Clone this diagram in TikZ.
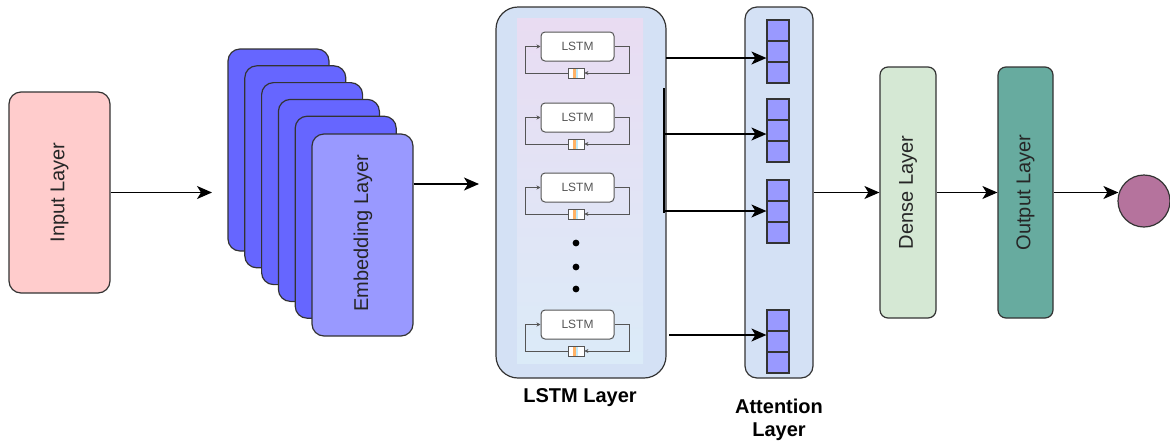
\documentclass[tikz,border=0pt]{standalone}
\usepackage{fontspec}
\setmainfont{Liberation Sans}
\usetikzlibrary{arrows.meta,calc}
\definecolor{inpfill}{HTML}{FFCCCC}
\definecolor{embback}{HTML}{6666FF}
\definecolor{embfront}{HTML}{9999FF}
\definecolor{boxblue}{HTML}{D4E1F5}
\definecolor{gradtop}{HTML}{E9DCF2}
\definecolor{gradbot}{HTML}{DBEBF8}
\definecolor{densefill}{HTML}{D5E8D4}
\definecolor{outfill}{HTML}{67AB9F}
\definecolor{circfill}{HTML}{B5739D}
\definecolor{edge}{HTML}{333333}
\definecolor{cellgray}{HTML}{555555}
\begin{document}
\begin{tikzpicture}[x=1pt,y=-1pt,
  layer/.style={draw=edge,line width=1.2pt,rounded corners=#1,inner sep=0pt,font=\fontsize{20}{24}\selectfont,text=black!85},
  layer/.default=12pt,
  arr/.style={line width=1.4pt,-{Stealth[length=15pt,width=13pt,inset=4pt]}},
  small/.style={draw=cellgray,line width=1pt,-{Stealth[length=4pt,width=4pt]}},
  lstmcell/.style={draw=cellgray,fill=white,line width=1pt,rounded corners=4pt,minimum width=73pt,minimum height=29pt,inner sep=0pt,font=\fontsize{12}{14}\selectfont,text=cellgray},
  regbox/.style={draw=cellgray,fill=white,line width=0.8pt,minimum width=16pt,minimum height=10pt,inner sep=0pt},
  attcell/.style={draw=edge,fill=embfront,line width=1.2pt,minimum width=22pt,minimum height=21pt,inner sep=0pt},
  lbl/.style={font=\bfseries\fontsize{20}{24}\selectfont,text=black}
]
\useasboundingbox (0,0) rectangle (1170,445);

% Input
\node[layer,fill=inpfill,minimum width=101pt,minimum height=201pt] (inp) at (59.5,192.5) {};
\node[rotate=90,font=\fontsize{20}{24}\selectfont,text=black!85] (inptxt) at (inp.center) {Input Layer};

% Embedding stack
\foreach \i in {0,...,4}{
  \node[layer,fill=embback,minimum width=101pt,minimum height=202pt] (emb\i) at ({278.5+16.8*\i},{150+16.8*\i}) {};
}
\node[layer,fill=embfront,minimum width=101pt,minimum height=202pt] (emb) at (362.5,235) {};
\node[rotate=90,font=\fontsize{20}{24}\selectfont,text=black!85] (embtxt) at (363,233) {Embedding Layer};

\coordinate (a1) at (212,192.5);
\draw[arr] (inp.east) -- (a1);
\coordinate (e2) at (479,184);
\draw[arr] (emb.east |- e2) -- (e2);

% LSTM layer
\node[layer=22pt,fill=boxblue,minimum width=170pt,minimum height=371pt] (lstm) at (581,192.5) {};
\shade[top color=gradtop,bottom color=gradbot] (517,18) rectangle (643,363);
\foreach \i/\c in {1/46.5,2/117.5,3/187.5,4/324.5}{
  \node[lstmcell] (cell\i) at (577.5,\c) {LSTM};
  \node[regbox,path picture={
      \fill[orange!60] ([xshift=-3pt]path picture bounding box.south) rectangle ([xshift=0pt]path picture bounding box.north);
      \fill[cyan!25] ([xshift=0pt]path picture bounding box.south) rectangle ([xshift=2pt]path picture bounding box.north);
    }] (reg\i) at (576,\c+26.5) {};
  \draw[small] (cell\i.east) -- ([xshift=15pt]cell\i.east) |- (reg\i.east);
  \draw[small] (reg\i.west) -| ([xshift=-15pt]cell\i.west) -- (cell\i.west);
}
\foreach \k/\y in {1/243,2/267,3/289}{
  \fill (576,\y) circle (3.4pt);
}
\node[lbl] (lstmlbl) at (580,398) {LSTM Layer};

% Attention layer
\node[layer,fill=boxblue,minimum width=68pt,minimum height=371pt] (att) at (779,192.5) {};
\foreach \g/\t in {1/20,2/99,3/180,4/310}{
  \node[attcell] (att\g a) at (778,\t+10.5) {};
  \node[attcell] (att\g b) at (778,\t+31.5) {};
  \node[attcell] (att\g c) at (778,\t+52.5) {};
}
\node[lbl,align=center] (attlbl) at (779,419.5) {Attention\\[-1pt]Layer};

% LSTM -> attention
\coordinate (s1) at (666,58);
\coordinate (s2) at (664,134);
\coordinate (s3) at (664,211);
\coordinate (s4) at (669,335);
\coordinate (vt) at (664,88);
\coordinate (vb) at (664,213);
\draw[line width=2pt] (vt) -- (vb);
\draw[arr] (s1) -- (s1 -| att1b.west);
\draw[arr] (s2) -- (s2 -| att2b.west);
\draw[arr] (s3) -- (s3 -| att3b.west);
\draw[arr] (s4) -- (s4 -| att4b.west);

% Dense, output
\node[layer=8pt,fill=densefill,minimum width=56pt,minimum height=251pt] (dense) at (908,192.5) {};
\node[rotate=90,font=\fontsize{20}{24}\selectfont,text=black!85] (densetxt) at (dense.center) {Dense Layer};
\node[layer=8pt,fill=outfill,minimum width=55pt,minimum height=251pt] (outp) at (1025.5,192.5) {};
\node[rotate=90,font=\fontsize{20}{24}\selectfont,text=black!85] (outtxt) at (outp.center) {Output Layer};
\node[circle,draw=edge,line width=1.2pt,fill=circfill,minimum size=52pt,inner sep=0pt] (circ) at (1144,201) {};

\draw[arr] (att.east) -- (dense.west);
\draw[arr] (dense.east) -- (outp.west);
\draw[arr] (outp.east) -- ([xshift=1pt]outp.east -| circ.west);
\end{tikzpicture}
\end{document}
